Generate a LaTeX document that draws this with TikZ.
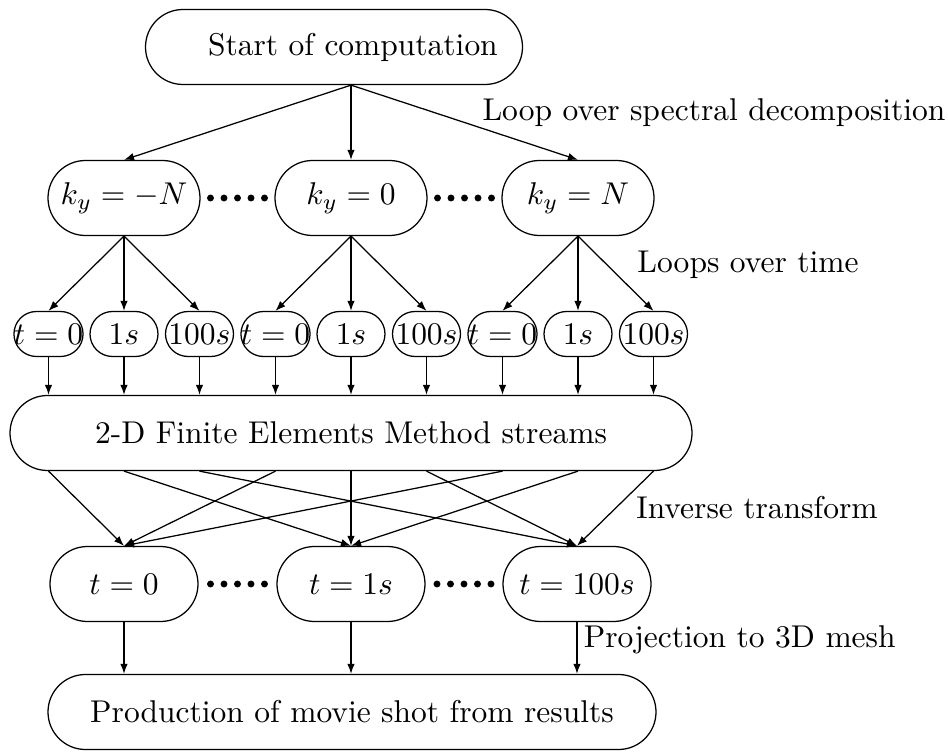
\documentclass[tikz,border=0pt]{standalone}
\usepackage{amsmath}
\usepackage{tikz}
\usetikzlibrary{arrows.meta,positioning,calc}

\newlength\pxu
\setlength\pxu{0.3175pt}

\tikzset{
  bigpill/.style={draw, rectangle, rounded corners=37.5\pxu, minimum height=75\pxu, inner sep=0pt},
  smallpill/.style={draw, rectangle, rounded corners=22.5\pxu, minimum height=45\pxu, minimum width=68\pxu, inner sep=0pt},
  flow/.style={-{Latex[length=3.2pt,width=2.4pt]}},
  note/.style={inner sep=0pt}
}

\begin{document}
\begin{tikzpicture}[x=\pxu, y=-\pxu]
        \useasboundingbox (0,0) rectangle (948,752);
        % Start of the computation
        \node[bigpill, minimum width=377\pxu] (start) at (334,47) {\hspace{12pt}Start of computation};
        % Spectral decomposition
        \node[bigpill, minimum width=152\pxu] (kmN) at (124,198) {$k_y=-N$};
        \node[bigpill, minimum width=152\pxu] (k0) at (351,198) {$k_y=0$};
        \node[bigpill, minimum width=152\pxu] (kN) at (578,198) {$k_y=N$};
        \coordinate (fork) at (start.south -| k0.north);
        \draw[flow] (fork) -- (kmN.north);
        \draw[flow] (fork) -- (k0.north);
        \draw[flow] (fork) -- (kN.north);
        \node[note] (lspec) at (714,113) {Loop over spectral decomposition};
        % Time steps for each k_y
        \foreach \k [count=\c] in {kmN,k0,kN} {
            \foreach \lbl [count=\j] in {$t=0$,$1s$,$100s$} {
                \node[smallpill] (t\c\j) at ($(\k)+({(\j-2)*75.5},136)$) {\lbl};
                \draw[flow] (\k.south) -- (t\c\j.north);
            }
        }
        \node[note] (ltime) at (748,265) {Loops over time};
        % FEM streams
        \node[bigpill, minimum width=682\pxu] (fem) at (351,433) {2-D Finite Elements Method streams};
        \foreach \c in {1,2,3} {
            \foreach \j in {1,2,3} {
                \draw[flow] (t\c\j.south) -- (t\c\j.south |- fem.north);
            }
        }
        % Results in time
        \node[bigpill, minimum width=148\pxu] (r1) at (124,584) {$t=0$};
        \node[bigpill, minimum width=148\pxu] (r2) at (351,584) {$t=1s$};
        \node[bigpill, minimum width=148\pxu] (r3) at (577,584) {$t=100s$};
        \foreach \c in {1,2,3} {
            \foreach \j in {1,2,3} {
                \draw[flow] (fem.south -| t\c\j) -- (r\j.north);
            }
        }
        \node[note] (linv) at (757,508) {Inverse transform};
        % Dots between the nodes
        \foreach \a/\b in {kmN/k0,k0/kN,r1/r2,r2/r3} {
            \foreach \d in {-2,...,2} {
                \fill ($(\a.east)!0.5!(\b.west)$) ++({\d*13.5},0) circle[radius=1.1pt];
            }
        }
        % Movie shot
        \node[bigpill, minimum width=608\pxu] (prod) at (352,712) {Production of movie shot from results};
        \draw[flow] (r1.south) -- (r1.south |- prod.north);
        \draw[flow] (r2.south) -- (r2.south |- prod.north);
        \draw[flow] (r3.south) -- node[right, pos=0.34, inner sep=2pt] (lproj) {Projection to 3D mesh} (r3.south |- prod.north);
    \end{tikzpicture}
\end{document}
